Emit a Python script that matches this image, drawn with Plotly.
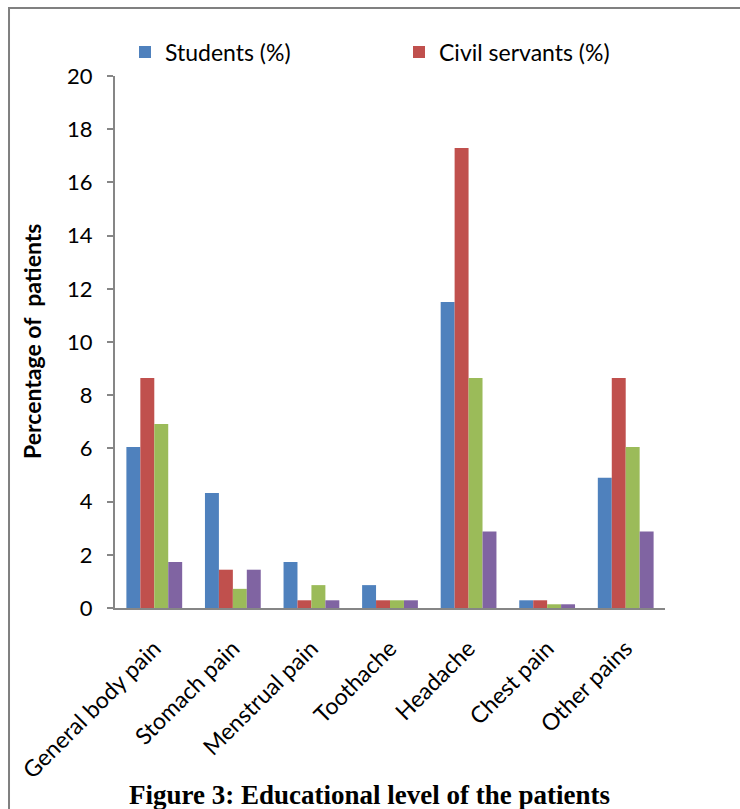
import plotly.graph_objects as go

categories = ["General body pain", "Stomach pain", "Menstrual pain", "Toothache",
              "Headache", "Chest pain", "Other pains"]
students = [6.05, 4.32, 1.73, 0.86, 11.5, 0.29, 4.9]
civil_servants = [8.65, 1.44, 0.29, 0.29, 17.29, 0.29, 8.65]
group3 = [6.92, 0.72, 0.86, 0.29, 8.65, 0.14, 6.05]
group4 = [1.73, 1.44, 0.29, 0.29, 2.88, 0.14, 2.88]
y_ticks = [0, 2, 4, 6, 8, 10, 12, 14, 16, 18, 20]

series = [
    ("Students (%)", students, "#4F81BD", "legend"),
    ("Civil servants (%)", civil_servants, "#C0504D", "legend2"),
    ("Group 3 (%)", group3, "#9BBB59", None),
    ("Group 4 (%)", group4, "#8064A2", None),
]

fig = go.Figure()
for name, vals, color, leg in series:
    fig.add_trace(go.Bar(
        x=categories, y=vals, name=name,
        showlegend=leg is not None, legend=leg or "legend",
        marker=dict(color=color, line=dict(width=0)),
    ))

axis_gray = "#868686"
font_family = "Lato, Open Sans, sans-serif"
legend_style = dict(orientation="h", yanchor="middle", xanchor="left",
                    font=dict(size=23), itemwidth=30,
                    bgcolor="rgba(0,0,0,0)")

fig.update_layout(
    width=740, height=809,
    margin=dict(l=115, r=75, t=76, b=201, autoexpand=False),
    paper_bgcolor="white", plot_bgcolor="white",
    barmode="group", bargap=0.29, bargroupgap=0,
    font=dict(family=font_family, size=22, color="black"),
    legend=dict(x=(125 - 115) / 550, y=1.045, **legend_style),
    legend2=dict(x=(399 - 115) / 550, y=1.045, **legend_style),
    xaxis=dict(
        showline=True, linecolor=axis_gray, linewidth=2,
        ticks="", tickangle=-45, tickfont=dict(size=23),
        ticklabelstandoff=16, showgrid=False, zeroline=False,
    ),
    yaxis=dict(
        range=[0, 20], tickvals=y_ticks, showline=True, linecolor=axis_gray,
        linewidth=2, ticks="outside", ticklen=6, tickcolor=axis_gray, tickwidth=2,
        ticklabelstandoff=10, showgrid=False, zeroline=False,
        tickfont=dict(size=22),
    ),
    annotations=[
        dict(text="<b>Percentage of  patients</b>", xref="paper", yref="paper",
             x=-0.151, y=0.502, xanchor="center", yanchor="middle",
             textangle=-90, showarrow=False, font=dict(size=23)),
        dict(text="<b>Figure 3: Educational level of the patients</b>",
             xref="paper", yref="paper", x=0.4636, y=-0.3515,
             xanchor="center", yanchor="middle", showarrow=False,
             font=dict(family="Liberation Serif, Times New Roman, serif", size=27)),
    ],
    shapes=[
        dict(type="rect", xref="paper", yref="paper",
             x0=-0.1927, x1=1.3, y0=-0.5, y1=1.128,
             line=dict(color="#808080", width=2), fillcolor="rgba(0,0,0,0)",
             layer="below"),
    ],
)

fig.write_html("out.html")
